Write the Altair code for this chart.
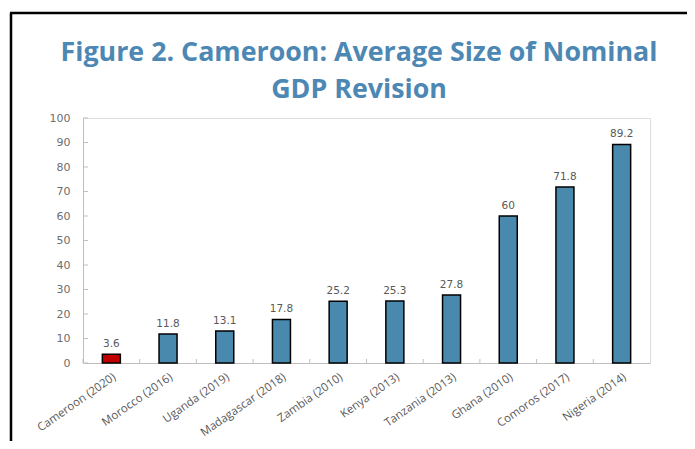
import altair as alt
import pandas as pd

countries = ["Cameroon (2020)", "Morocco (2016)", "Uganda (2019)", "Madagascar (2018)",
             "Zambia (2010)", "Kenya (2013)", "Tanzania (2013)", "Ghana (2010)",
             "Comoros (2017)", "Nigeria (2014)"]
values = [3.6, 11.8, 13.1, 17.8, 25.2, 25.3, 27.8, 60, 71.8, 89.2]
highlight = ["Cameroon (2020)"]
y_ticks = [0, 10, 20, 30, 40, 50, 60, 70, 80, 90, 100]
title_lines = ["Figure 2. Cameroon: Average Size of Nominal", "GDP Revision"]

BLUE = "#4a89ae"
RED = "#c00000"
TITLE_BLUE = "#4d87b3"
GRAY_TXT = "#595959"
GRAY_LINE = "#bfbfbf"

W, H = 567, 245

df = pd.DataFrame({
    "country": countries,
    "value": values,
    "group": ["hl" if c in highlight else "other" for c in countries],
})
tick_df = pd.DataFrame({"t": y_ticks})
dummy = pd.DataFrame({"d": [0]})
title_df = pd.DataFrame({"line": title_lines, "row": [0, 1]})

x_axis = alt.Axis(labelAngle=-35, labelFont="Open Sans", labelFontSize=11.5,
                  labelColor=GRAY_TXT, ticks=False, domainColor=GRAY_LINE,
                  labelPadding=8, labelOverlap=False, title=None)
y_axis = alt.Axis(values=y_ticks, grid=False, ticks=False, labelFont="DejaVu Sans",
                  labelFontSize=11, labelColor="#6e6e6e", domainColor=GRAY_LINE,
                  labelPadding=13, labelOverlap=False, labelFlush=False, title=None)
x_scale = alt.Scale(paddingInner=0, paddingOuter=0)
y_scale = alt.Scale(domain=[0, 100], nice=False)

bars = alt.Chart(df).mark_bar(size=18, stroke="black", strokeWidth=1.5).encode(
    x=alt.X("country:N", sort=countries, scale=x_scale, axis=x_axis),
    y=alt.Y("value:Q", scale=y_scale, axis=y_axis),
    color=alt.Color("group:N", scale=alt.Scale(domain=["hl", "other"], range=[RED, BLUE]),
                    legend=None),
)

labels = alt.Chart(df).mark_text(font="DejaVu Sans", fontSize=10.5, color=GRAY_TXT,
                                 baseline="alphabetic", dy=-7).encode(
    x=alt.X("country:N", sort=countries, scale=x_scale, axis=x_axis),
    y=alt.Y("value:Q", scale=y_scale, axis=y_axis),
    text=alt.Text("value:Q"),
)

yticks = alt.Chart(tick_df).mark_rule(color=GRAY_LINE).encode(
    y=alt.Y("t:Q", scale=y_scale, axis=y_axis),
    x=alt.value(0),
    x2=alt.value(5),
)

xticks = alt.Chart(df).mark_rule(color=GRAY_LINE).encode(
    x=alt.X("country:N", sort=countries, bandPosition=0, scale=x_scale, axis=x_axis),
    y=alt.value(H - 4),
    y2=alt.value(H),
)

frame_left = alt.Chart(dummy).mark_rule(color="black", strokeWidth=2.5).encode(
    x=alt.value(-72), y=alt.value(-105), y2=alt.value(340))
frame_top = alt.Chart(dummy).mark_rule(color="black", strokeWidth=2.5).encode(
    x=alt.value(-73), x2=alt.value(620), y=alt.value(-105))

title_l1 = alt.Chart(title_df).transform_filter("datum.row == 0").mark_text(
    font="Open Sans", fontSize=26.8, fontWeight="bold", color=TITLE_BLUE,
    align="center", baseline="alphabetic").encode(
    text="line:N", x=alt.value(276), y=alt.value(-57))
title_l2 = alt.Chart(title_df).transform_filter("datum.row == 1").mark_text(
    font="Open Sans", fontSize=26.8, fontWeight="bold", color=TITLE_BLUE,
    align="center", baseline="alphabetic").encode(
    text="line:N", x=alt.value(276), y=alt.value(-20))

chart = alt.layer(bars, labels, yticks, xticks, frame_left, frame_top, title_l1, title_l2).properties(
    width=W, height=H,
    autosize=alt.AutoSizeParams(type="none"),
    padding={"left": 75, "top": 110, "right": 37, "bottom": 78},
).configure_view(stroke=GRAY_LINE, strokeWidth=1).configure(background="white")

chart.save("out.html", embed_options={"renderer": "svg", "actions": False})
